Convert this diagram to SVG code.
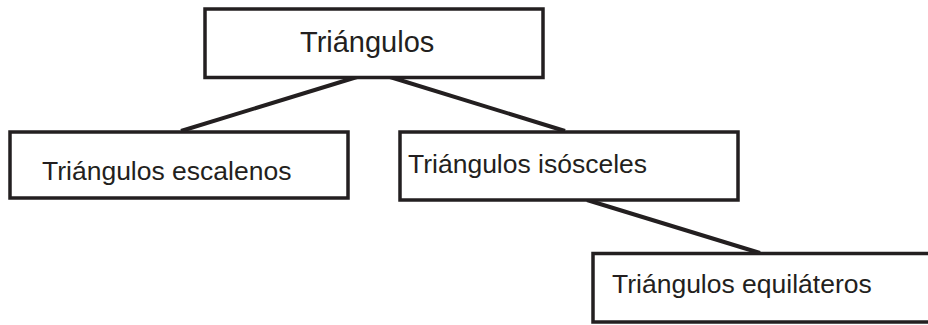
<svg xmlns="http://www.w3.org/2000/svg" width="928" height="325" viewBox="0 0 928 325">
<style>
.box{fill:#fff;stroke:#231f20;stroke-width:3.5}
.lbl{font-family:"Liberation Sans",Arial,sans-serif;font-size:26.5px;fill:#231f20}
.top{font-size:29px}
.con{stroke:#231f20;stroke-width:4;fill:none}
</style>
<rect width="928" height="325" fill="#fff"/>
<g id="connectors">
<line class="con" x1="357" y1="77" x2="181" y2="131"/>
<line class="con" x1="390" y1="77" x2="565" y2="131"/>
<line class="con" x1="587" y1="200" x2="760" y2="253"/>
</g>
<g id="n-triangulos">
<rect class="box" x="205" y="9" width="338" height="68.5"/>
<text class="lbl top" x="300" y="52">Triángulos</text>
</g>
<g id="n-escalenos">
<rect class="box" x="10" y="132" width="338" height="66"/>
<text class="lbl" x="42" y="180">Triángulos escalenos</text>
</g>
<g id="n-isosceles">
<rect class="box" x="400" y="132" width="338" height="68"/>
<text class="lbl" x="408" y="173">Triángulos isósceles</text>
</g>
<g id="n-equilateros">
<rect class="box" x="593" y="253.5" width="338" height="68.5"/>
<text class="lbl" x="612" y="293">Triángulos equiláteros</text>
</g>
</svg>
